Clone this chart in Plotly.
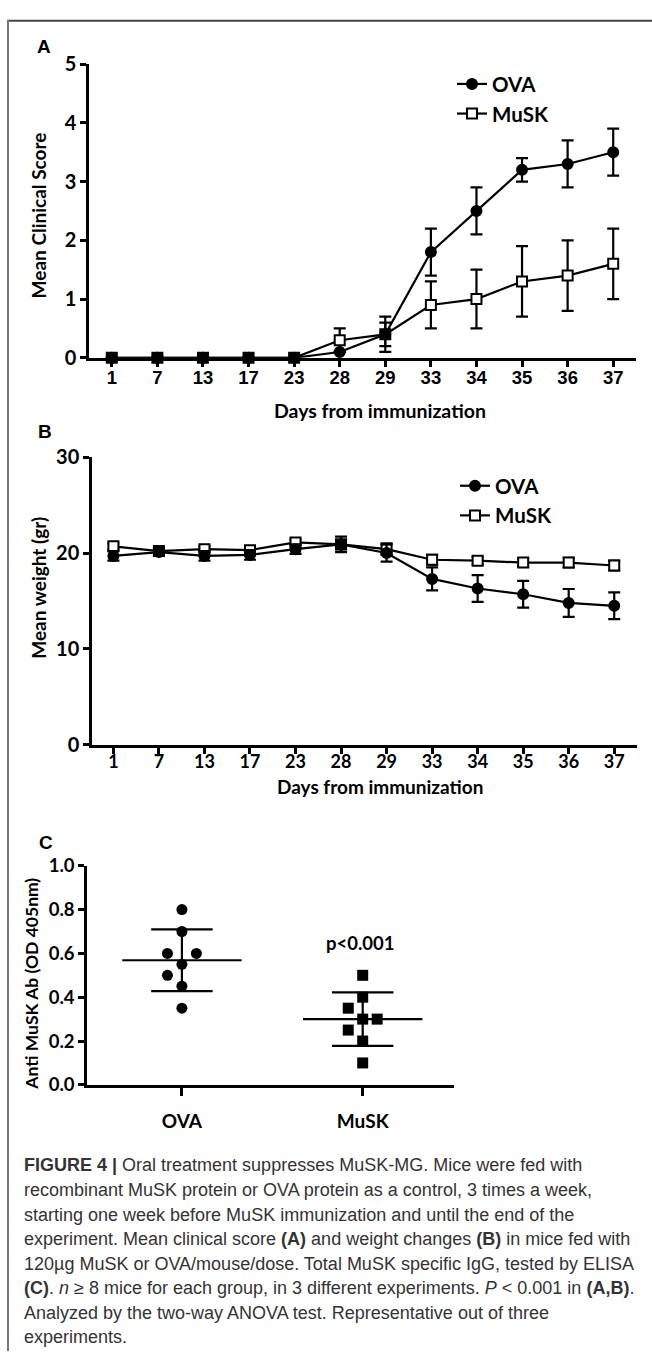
import numpy as np
import plotly.graph_objects as go

W, H = 652, 1367
def X(px): return px / W
def Y(py): return 1 - py / H

# ---------------- data ----------------
days = ["1", "7", "13", "17", "23", "28", "29", "33", "34", "35", "36", "37"]

score_ova = [0, 0, 0, 0, 0, 0.1, 0.4, 1.8, 2.5, 3.2, 3.3, 3.5]
score_ova_err = [0, 0, 0, 0, 0, 0, 0.3, 0.4, 0.4, 0.2, 0.4, 0.4]
score_musk = [0, 0, 0, 0, 0, 0.3, 0.4, 0.9, 1.0, 1.3, 1.4, 1.6]
score_musk_err = [0, 0, 0, 0, 0, 0.2, 0.2, 0.4, 0.5, 0.6, 0.6, 0.6]

weight_ova = [19.7, 20.1, 19.7, 19.8, 20.4, 20.9, 20.0, 17.3, 16.3, 15.7, 14.8, 14.5]
weight_ova_err = [0.5, 0.4, 0.5, 0.5, 0.5, 0.8, 0.9, 1.2, 1.4, 1.4, 1.45, 1.4]
weight_musk = [20.7, 20.2, 20.4, 20.3, 21.1, 20.9, 20.4, 19.3, 19.2, 19.0, 19.0, 18.7]
weight_musk_err = [0.3, 0.3, 0.3, 0.3, 0.3, 0.5, 0.6, 0.5, 0.4, 0.4, 0.5, 0.5]

groups = ["OVA", "MuSK"]
ab_ova = [0.80, 0.70, 0.60, 0.60, 0.55, 0.50, 0.45, 0.35]
ab_musk = [0.50, 0.40, 0.35, 0.30, 0.30, 0.25, 0.20, 0.10]
# beeswarm column of each dot (-1 left, 0 centre, +1 right)
ova_cols = [0, 0, -1, 1, 0, -1, 0, 0]
musk_cols = [0, 0, -1, 0, 1, -1, 0, 0]

caption_lines = [
    "<b>FIGURE 4 |</b> Oral treatment suppresses MuSK-MG. Mice were fed with",
    "recombinant MuSK protein or OVA protein as a control, 3 times a week,",
    "starting one week before MuSK immunization and until the end of the",
    "experiment. Mean clinical score <b>(A)</b> and weight changes <b>(B)</b> in mice fed with",
    "120µg MuSK or OVA/mouse/dose. Total MuSK specific IgG, tested by ELISA",
    "<b>(C)</b>. <i>n</i> ≥ 8 mice for each group, in 3 different experiments. <i>P</i> &lt; 0.001 in <b>(A,B)</b>.",
    "Analyzed by the two-way ANOVA test. Representative out of three",
    "experiments.",
]

# ---------------- styles ----------------
TF = "Lato, 'Open Sans', sans-serif"
AF = "'Liberation Sans', Arial, sans-serif"
LW = 2.2

fig = go.Figure()

def series(x, y, err, name, symbol, fill, xa, ya, legend, rank):
    fig.add_trace(go.Scatter(
        x=x, y=y, name=name, mode="lines+markers",
        xaxis=xa, yaxis=ya, legend=legend, legendrank=rank,
        line=dict(color="black", width=LW),
        marker=dict(symbol=symbol, size=10, color=fill,
                    line=dict(color="black", width=2)),
        error_y=dict(type="data", array=err, visible=True, color="black",
                     thickness=2.2, width=6),
        cliponaxis=False,
    ))

# Panel A (MuSK drawn first so the filled OVA circles sit on top)
series(days, score_musk, score_musk_err, "MuSK", "square", "white", "x", "y", "legend", 2)
series(days, score_ova, score_ova_err, "OVA", "circle", "black", "x", "y", "legend", 1)
# Panel B
series(days, weight_musk, weight_musk_err, "MuSK", "square", "white", "x2", "y2", "legend2", 2)
series(days, weight_ova, weight_ova_err, "OVA", "circle", "black", "x2", "y2", "legend2", 1)

# Panel C : dot plot with mean +/- SD
JIT = 0.08
for gi, (vals, cols, sym) in enumerate([(ab_ova, ova_cols, "circle"),
                                        (ab_musk, musk_cols, "square")]):
    xs = [gi + c * JIT for c in cols]
    fig.add_trace(go.Scatter(
        x=xs, y=vals, mode="markers", xaxis="x3", yaxis="y3", showlegend=False,
        marker=dict(symbol=sym, size=11, color="black"), cliponaxis=False))
    m = float(np.mean(vals))
    sd = float(np.std(vals, ddof=1))
    for half, yv in [(0.33, m), (0.17, m + sd), (0.17, m - sd)]:
        fig.add_trace(go.Scatter(
            x=[gi - half, gi + half], y=[yv, yv], mode="lines",
            xaxis="x3", yaxis="y3", showlegend=False,
            line=dict(color="black", width=LW), hoverinfo="skip"))
    fig.add_trace(go.Scatter(
        x=[gi, gi], y=[m - sd, m + sd], mode="lines",
        xaxis="x3", yaxis="y3", showlegend=False,
        line=dict(color="black", width=LW), hoverinfo="skip"))

axis_common = dict(showline=True, linecolor="black", linewidth=2.5,
                   ticks="outside", ticklen=6, tickwidth=2.5, tickcolor="black",
                   showgrid=False, zeroline=False)

fig.update_layout(
    width=W, height=H, margin=dict(l=0, r=0, t=0, b=0),
    paper_bgcolor="white", plot_bgcolor="white",
    font=dict(family=TF, color="black"),
    xaxis=dict(axis_common, domain=[X(89), X(636)], anchor="y",
               type="category", range=[-0.5, 11.5], ticklabelstandoff=-5,
               tickfont=dict(family=AF, size=18.5, weight="bold")),
    yaxis=dict(axis_common, domain=[Y(351), Y(52)], anchor="x",
               range=[0, 5], dtick=1,
               tickfont=dict(family=TF, size=20, weight="bold")),
    xaxis2=dict(axis_common, domain=[X(92), X(637)], anchor="y2",
                type="category", range=[-0.47, 11.5], ticklabelstandoff=-7,
                tickfont=dict(family=TF, size=18, weight="bold")),
    yaxis2=dict(axis_common, domain=[Y(745), Y(452)], anchor="x2",
                range=[0, 30], dtick=10,
                tickfont=dict(family=TF, size=20, weight="bold")),
    xaxis3=dict(axis_common, domain=[X(87), X(454)], anchor="y3",
                range=[-0.525, 1.505], tickvals=[0, 1], ticktext=groups,
                ticklen=8, ticklabelstandoff=10,
                tickfont=dict(family=TF, size=19, weight="bold")),
    yaxis3=dict(axis_common, domain=[Y(1091), Y(868)], anchor="x3",
                range=[0, 1.0], dtick=0.2, tickformat=".1f",
                tickfont=dict(family=TF, size=18.5, weight="bold")),
    legend=dict(x=X(452), y=Y(52), xanchor="left", yanchor="top",
                font=dict(family=TF, size=20.5, weight="bold"),
                bgcolor="rgba(0,0,0,0)", tracegroupgap=0, itemwidth=30),
    legend2=dict(x=X(455), y=Y(461), xanchor="left", yanchor="top",
                 font=dict(family=TF, size=20.5, weight="bold"),
                 bgcolor="rgba(0,0,0,0)", tracegroupgap=0, itemwidth=30),
)

ann = []
def text(t, x, y, size=18, family=TF, angle=0, xanchor="center", color="black", weight="bold"):
    ann.append(dict(text=t, x=X(x), y=Y(y), xref="paper", yref="paper",
                    showarrow=False, xanchor=xanchor, yanchor="middle",
                    textangle=angle,
                    font=dict(family=family, size=size, color=color, weight=weight)))

# panel letters
text("A", 44, 34, size=19, family=AF)
text("B", 45, 426, size=19, family=AF)
text("C", 46, 844, size=19, family=AF)
# axis titles
text("Mean Clinical Score", 38, 206, size=19, angle=-90)
text("Days from immunization", 380, 405, size=19.5)
text("Mean weight (gr)", 39, 585, size=19, angle=-90)
text("Days from immunization", 380, 787, size=19)
text("Anti MuSK Ab (OD 405nm)", 32, 988, size=17.5, angle=-90)
text("p&lt;0.001", 360, 947, size=18.5)

# caption
for i, line in enumerate(caption_lines):
    text(line, 22, 1173 + 25 * i, size=18, family=AF, xanchor="left",
         color="#333333", weight="normal")

fig.update_layout(annotations=ann)

# frame lines of the figure box
fig.add_shape(type="line", xref="paper", yref="paper",
              x0=X(7), x1=X(652), y0=Y(8), y1=Y(8), line=dict(color="#444", width=2))
fig.add_shape(type="line", xref="paper", yref="paper",
              x0=X(8), x1=X(8), y0=Y(7), y1=Y(1362), line=dict(color="#777", width=2))

fig.write_html("out.html", config={"displayModeBar": False},
               post_script="document.body.style.margin='0px';")
